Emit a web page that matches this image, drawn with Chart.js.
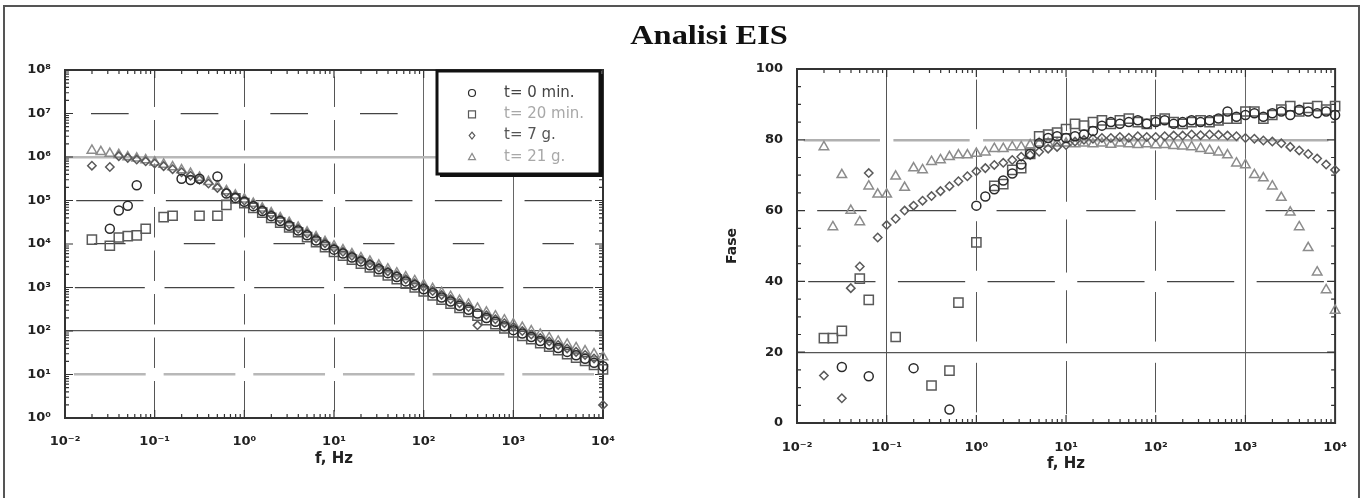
<!DOCTYPE html>
<html>
<head>
<meta charset="utf-8">
<title>Analisi EIS</title>
<script src="https://cdn.jsdelivr.net/npm/chart.js@4.4.0/dist/chart.umd.min.js"></script>
<style>
    body { margin: 0; background: #fff; }
    #wrap { position: relative; width: 1364px; height: 498px; overflow: hidden; }
    #frame { position: absolute; left: 3px; top: 5px; width: 1357px; height: 520px; border: 2px solid #555; box-sizing: border-box; }
    #title { position: absolute; left: 609px; top: 20px; width: 200px; text-align: center; line-height: 32px;
             font: bold 27px "Liberation Serif", "Times New Roman", serif; color: #111; transform: scaleX(1.2); }
    canvas { position: absolute; top: 0; }
</style>
</head>
<body>
<div id="wrap">
    <div id="frame"></div>
    <canvas id="imp-chart" width="682" height="498" style="left:0"></canvas>
    <canvas id="fase-chart" width="682" height="498" style="left:682px"></canvas>
    <div id="title">Analisi EIS</div>
</div>
<script>
// Frequencies of the sweep (Hz), low to high
const freq = [0.01995, 0.02512, 0.03162, 0.03981, 0.05012, 0.0631, 0.07943, 0.1, 0.1259, 0.1585,
              0.1995, 0.2512, 0.3162, 0.3981, 0.5012, 0.631, 0.7943, 1, 1.259, 1.585,
              1.995, 2.512, 3.162, 3.981, 5.012, 6.31, 7.943, 10, 12.59, 15.85,
              19.95, 25.12, 31.62, 39.81, 50.12, 63.1, 79.43, 100, 125.9, 158.5,
              199.5, 251.2, 316.2, 398.1, 501.2, 631, 794.3, 1000, 1259, 1585,
              1995, 2512, 3162, 3981, 5012, 6310, 7943, 10000];

const seriesLabels = ['t= 0 min.', 't= 20 min.', 't= 7 g.', 't= 21 g.'];

// |Z|, as log10 of the value (null = no point)
const logZ0min = [null, null, 4.35, 4.77, 4.88, 5.35, null, null, null, null,
                  5.5, 5.47, 5.5, null, 5.55, 5.16, 5.06, 4.97, 4.87, 4.76,
                  4.64, 4.53, 4.42, 4.31, 4.2, 4.08, 3.97, 3.87, 3.78, 3.69,
                  3.6, 3.51, 3.42, 3.33, 3.24, 3.14, 3.05, 2.96, 2.87, 2.77,
                  2.68, 2.58, 2.49, 2.4, 2.3, 2.21, 2.11, 2.02, 1.94, 1.86,
                  1.77, 1.69, 1.61, 1.52, 1.44, 1.36, 1.27, 1.19];
const logZ20min = [4.1, null, 3.96, 4.15, 4.18, 4.2, 4.35, null, 4.62, 4.65,
                   null, null, 4.65, null, 4.65, 4.9, 5.05, 4.94, 4.83, 4.72,
                   4.6, 4.49, 4.38, 4.27, 4.16, 4.04, 3.93, 3.82, 3.73, 3.64,
                   3.55, 3.46, 3.37, 3.28, 3.19, 3.09, 3.0, 2.91, 2.82, 2.72,
                   2.63, 2.53, 2.44, 2.35, 2.25, 2.16, 2.06, 1.97, 1.89, 1.81,
                   1.72, 1.64, 1.56, 1.47, 1.39, 1.31, 1.22, 1.12];
const logZ7g = [5.8, null, 5.77, 6.02, 5.98, 5.94, 5.9, 5.85, 5.79, 5.72,
                5.65, 5.57, 5.48, 5.39, 5.29, 5.19, 5.09, 5.0, 4.9, 4.79,
                4.68, 4.57, 4.46, 4.35, 4.24, 4.13, 4.02, 3.91, 3.82, 3.73,
                3.64, 3.55, 3.46, 3.37, 3.28, 3.19, 3.1, 3.01, 2.92, 2.83,
                2.73, 2.64, 2.55, 2.13, 2.36, 2.27, 2.18, 2.09, 2.0, 1.92,
                1.84, 1.76, 1.68, 1.6, 1.52, 1.45, 1.37, 0.3];
const logZ21g = [6.15, 6.12, 6.08, 6.05, 6.0, 5.97, 5.93, 5.88, 5.83, 5.77,
                 5.7, 5.62, 5.53, 5.43, 5.33, 5.22, 5.12, 5.03, 4.93, 4.82,
                 4.71, 4.6, 4.49, 4.38, 4.27, 4.16, 4.05, 3.95, 3.86, 3.77,
                 3.68, 3.6, 3.51, 3.42, 3.33, 3.24, 3.15, 3.06, 2.97, 2.88,
                 2.79, 2.7, 2.61, 2.52, 2.43, 2.34, 2.25, 2.16, 2.08, 2.0,
                 1.92, 1.84, 1.76, 1.69, 1.61, 1.54, 1.47, 1.4];

// Phase (degrees)
const fase0min = [null, null, 15.8, null, null, 13.2, null, null, null, null,
                  15.5, null, null, null, 3.8, null, null, 61.4, 64, 66,
                  68.5, 70.5, 73, 76, 79, 80.5, 81, 80.5, 81, 81.5,
                  82.5, 84, 85, 84.5, 85, 85.5, 84.5, 85, 85.5, 84.5,
                  85, 85.5, 85, 85.5, 86, 88, 86.5, 87, 87.5, 86.5,
                  87.5, 88, 87, 88.5, 88, 87.5, 88, 87];
const fase20min = [24, 24, 26, null, 40.8, 34.8, null, null, 24.3, null,
                   null, null, 10.6, null, 14.8, 34, null, 51, null, 67,
                   67.5, 71.5, 72, 76, 81, 81.5, 82, 83, 84.5, 84,
                   85, 85.5, 84.5, 85.5, 86, 85, 84.5, 85.5, 86, 85,
                   84.5, 85, 85.5, 85, 85.5, 86, 86, 88, 88, 86,
                   87, 88.5, 89.5, 88, 89, 89.5, 88.5, 89.5];
const fase7g = [13.4, null, 7.0, 38.1, 44.2, 70.6, 52.4, 55.9, 57.7, 60,
                61.4, 62.8, 64.1, 65.5, 66.9, 68.3, 69.7, 71.1, 72, 72.9,
                73.5, 74.3, 75.2, 75.7, 76.6, 77.5, 78, 78.5, 79.5, 80,
                80.3, 80.5, 80.5, 80.8, 80.6, 81, 80.8, 80.8, 81, 81.2,
                81.2, 81.5, 81.3, 81.5, 81.4, 81.2, 81, 80.5, 80.3, 79.8,
                79.5, 79, 78, 77, 76, 74.7, 73, 71.5];
const fase21g = [78, 55.4, 70.1, 60, 56.8, 66.9, 64.6, 64.6, 69.7, 66.5,
                 72, 71.5, 73.8, 74.3, 75.2, 75.7, 75.7, 76.1, 76.5, 77.5,
                 77.5, 78, 78, 78.5, 79, 79, 79, 79, 78.8, 79,
                 78.8, 79, 78.7, 79, 78.8, 78.6, 78.8, 78.5, 78.6, 78.3,
                 78.2, 78, 77.5, 77, 76.5, 75.7, 73.4, 72.9, 70.1, 69.2,
                 66.9, 63.7, 59.5, 55.4, 49.5, 42.6, 37.6, 31.8];

// Tick labels
const freqTickExps = [-2, -1, 0, 1, 2, 3, 4];
const impTickExps = [0, 1, 2, 3, 4, 5, 6, 7, 8];
const faseTicks = [0, 20, 40, 60, 80, 100];

// Marker look of each series (plot + legend)
const markers = [
    { style: 'circle', radius: 4.5, color: '#2a2a2a', text: '#444' },
    { style: 'rect', radius: 6.5, color: '#5a5a5a', text: '#a8a8a8' },
    { style: 'rectRot', radius: 4.2, color: '#5a5a5a', text: '#555' },
    { style: 'triangle', radius: 5.5, color: '#8c8c8c', text: '#a8a8a8' }
];

// Grid line looks; frac = share of each cell covered by the dash (1 = solid)
const impXGrid = {
    '-1': { color: '#555', width: 1, frac: 0.7 },
    '0': { color: '#555', width: 1, frac: 0.7 },
    '1': { color: '#555', width: 1, frac: 0.7 },
    '2': { color: '#666', width: 1, frac: 1 },
    '3': { color: '#666', width: 1, frac: 1 }
};
const impYGrid = {
    '1': { color: '#b8b8b8', width: 2.5, frac: 0.8 },
    '2': { color: '#555', width: 1.2, frac: 1 },
    '3': { color: '#444', width: 1.2, frac: 0.78 },
    '4': { color: '#444', width: 1.2, frac: 0.35 },
    '5': { color: '#444', width: 1.2, frac: 0.75 },
    '6': { color: '#b8b8b8', width: 2.5, frac: 1 },
    '7': { color: '#444', width: 1.2, frac: 0.42 }
};
const faseXGrid = {
    '-1': { color: '#555', width: 1, frac: 1 },
    '0': { color: '#555', width: 1, frac: 0.7 },
    '1': { color: '#555', width: 1, frac: 0.75 },
    '2': { color: '#555', width: 1, frac: 0.7 },
    '3': { color: '#666', width: 1, frac: 1 }
};
const faseYGrid = {
    '20': { color: '#555', width: 1.2, frac: 1 },
    '40': { color: '#444', width: 1.2, frac: 0.75 },
    '60': { color: '#444', width: 1.2, frac: 0.55 },
    '80': { color: '#b0b0b0', width: 2.5, frac: 0.85 }
};

const SUP = { '-': '\u207B', '0': '\u2070', '1': '\u00B9', '2': '\u00B2', '3': '\u00B3', '4': '\u2074',
              '5': '\u2075', '6': '\u2076', '7': '\u2077', '8': '\u2078', '9': '\u2079' };

function decade(v) {
    return Math.round(Math.log10(v));
}

function pow10Label(v) {
    return '10' + String(decade(v)).split('').map(c => SUP[c]).join('');
}

function toPoints(values, convert) {
    const pts = [];
    values.forEach((v, i) => {
        if (v !== null) pts.push({ x: freq[i], y: convert(v) });
    });
    return pts;
}

function makeDatasets(seriesValues, convert) {
    return seriesValues.map((values, k) => ({
        label: seriesLabels[k],
        data: toPoints(values, convert),
        pointStyle: markers[k].style,
        pointRadius: markers[k].radius,
        pointBorderWidth: 1.5,
        pointBorderColor: markers[k].color,
        pointBackgroundColor: 'rgba(0,0,0,0)',
        showLine: false,
        clip: false
    }));
}

// grid colour/width and dash (centred in each cell) from a style table
function gridStyle(styles, keyOf) {
    const pick = ctx => ctx.tick ? styles[keyOf(ctx.tick.value)] : undefined;
    return {
        color: ctx => { const s = pick(ctx); return s ? s.color : 'rgba(0,0,0,0)'; },
        lineWidth: ctx => { const s = pick(ctx); return s ? s.width : 1; },
        drawTicks: false
    };
}

function dashStyle(styles, keyOf, cells, vertical) {
    const cellLen = ctx => {
        const a = ctx.chart.chartArea;
        if (!a) return 0;
        return (vertical ? (a.bottom - a.top) : (a.right - a.left)) / cells;
    };
    const pick = ctx => ctx.tick ? styles[keyOf(ctx.tick.value)] : undefined;
    return {
        display: false,
        dash: ctx => {
            const s = pick(ctx);
            const p = cellLen(ctx);
            if (!s || s.frac >= 1 || !p) return [];
            return [p * s.frac, p * (1 - s.frac)];
        },
        dashOffset: ctx => {
            const s = pick(ctx);
            const p = cellLen(ctx);
            if (!s || s.frac >= 1 || !p) return 0;
            return p * (1 + s.frac) / 2;
        }
    };
}

function tickValues(spec) {
    const out = [];
    if (spec.log) {
        for (let e = spec.from; e < spec.to; e++) {
            for (let m = 1; m <= 9; m++) out.push({ value: m * Math.pow(10, e), major: m === 1 });
        }
    } else {
        for (let v = spec.from; v <= spec.to; v += spec.step) out.push({ value: v, major: v % spec.majorStep === 0 });
    }
    return out;
}

// Plot frame plus inward tick marks on all four sides
const frameTicks = {
    id: 'frameTicks',
    beforeDatasetsDraw(chart, args, opts) {
        const ctx = chart.ctx;
        const a = chart.chartArea;
        const xs = chart.scales.x;
        const ys = chart.scales.y;
        ctx.save();
        ctx.strokeStyle = '#333';
        ctx.lineWidth = 1.2;
        ctx.beginPath();
        tickValues(opts.x).forEach(t => {
            const px = xs.getPixelForValue(t.value);
            const len = t.major ? 8 : 4;
            ctx.moveTo(px, a.bottom); ctx.lineTo(px, a.bottom - len);
            ctx.moveTo(px, a.top); ctx.lineTo(px, a.top + len);
        });
        tickValues(opts.y).forEach(t => {
            const py = ys.getPixelForValue(t.value);
            const len = t.major ? 8 : 4;
            ctx.moveTo(a.left, py); ctx.lineTo(a.left + len, py);
            ctx.moveTo(a.right, py); ctx.lineTo(a.right - len, py);
        });
        ctx.stroke();
        ctx.lineWidth = 2;
        ctx.strokeRect(a.left, a.top, a.right - a.left, a.bottom - a.top);
        ctx.restore();
    }
};

function drawMarker(ctx, style, x, y, r) {
    ctx.beginPath();
    if (style === 'circle') {
        ctx.arc(x, y, r, 0, Math.PI * 2);
    } else if (style === 'rect') {
        ctx.rect(x - r, y - r, 2 * r, 2 * r);
    } else if (style === 'rectRot') {
        ctx.moveTo(x, y - r); ctx.lineTo(x + r * 0.8, y); ctx.lineTo(x, y + r); ctx.lineTo(x - r * 0.8, y);
        ctx.closePath();
    } else {
        ctx.moveTo(x, y - r); ctx.lineTo(x + r, y + r * 0.8); ctx.lineTo(x - r, y + r * 0.8);
        ctx.closePath();
    }
    ctx.stroke();
}

// Boxed legend in the upper right corner of the |Z| plot
const boxLegend = {
    id: 'boxLegend',
    afterDatasetsDraw(chart, args, opts) {
        if (!opts.show) return;
        const ctx = chart.ctx;
        const a = chart.chartArea;
        const x = a.right - opts.width - 3;
        const y = a.top + opts.top;
        ctx.save();
        ctx.fillStyle = '#111';
        ctx.fillRect(x + 3, y + 3, opts.width, opts.height);
        ctx.fillStyle = '#fff';
        ctx.fillRect(x, y, opts.width, opts.height);
        ctx.lineWidth = 3;
        ctx.strokeStyle = '#111';
        ctx.strokeRect(x, y, opts.width, opts.height);
        ctx.font = '15px "DejaVu Sans"';
        ctx.textBaseline = 'middle';
        chart.data.datasets.forEach((ds, k) => {
            const cy = y + opts.firstRow + k * opts.rowGap;
            ctx.strokeStyle = markers[k].color;
            ctx.lineWidth = 1.2;
            drawMarker(ctx, markers[k].style, x + opts.markerX, cy, 3.5);
            ctx.fillStyle = markers[k].text;
            ctx.fillText(ds.label, x + opts.textX, cy);
        });
        ctx.restore();
    }
};

Chart.defaults.font.family = '"DejaVu Sans", sans-serif';
Chart.defaults.color = '#222';

const tickFont = { size: 13, weight: 'bold' };
const titleFont = { size: 15, weight: 'bold' };

function freqAxis(grid, cells, labelPad) {
    return {
        type: 'logarithmic',
        position: 'bottom',
        min: 0.01,
        max: 10000,
        afterBuildTicks: s => { s.ticks = freqTickExps.map(e => ({ value: Math.pow(10, e) })); },
        afterFit: s => { s.height = 52; },
        ticks: { callback: v => pow10Label(v), autoSkip: false, maxRotation: 0, padding: labelPad, font: tickFont, color: '#222' },
        grid: gridStyle(grid, decade),
        border: dashStyle(grid, decade, cells, true),
        title: { display: true, text: 'f, Hz', font: titleFont, color: '#222', padding: { top: 0, bottom: 2 } }
    };
}

// Impedance modulus chart
new Chart(document.getElementById('imp-chart'), {
    type: 'scatter',
    data: { datasets: makeDatasets([logZ0min, logZ20min, logZ7g, logZ21g], v => Math.pow(10, v)) },
    options: {
        responsive: false,
        animation: false,
        events: [],
        layout: { padding: { left: 0, right: 79, top: 70, bottom: 28 } },
        scales: {
            x: freqAxis(impXGrid, impTickExps.length - 1, 16),
            y: {
                type: 'logarithmic',
                min: 1,
                max: 1e8,
                afterBuildTicks: s => { s.ticks = impTickExps.map(e => ({ value: Math.pow(10, e) })); },
                afterFit: s => { s.width = 65; },
                ticks: { callback: v => pow10Label(v), autoSkip: false, padding: 14, font: tickFont, color: '#222' },
                grid: gridStyle(impYGrid, decade),
                border: dashStyle(impYGrid, decade, freqTickExps.length - 1, false)
            }
        },
        plugins: {
            legend: { display: false },
            tooltip: { enabled: false },
            frameTicks: { x: { log: true, from: -2, to: 4 }, y: { log: true, from: 0, to: 8 } },
            boxLegend: { show: true, width: 163, height: 103, top: 1, firstRow: 22, rowGap: 21.3, markerX: 35, textX: 67 }
        }
    },
    plugins: [frameTicks, boxLegend]
});

// Phase chart
new Chart(document.getElementById('fase-chart'), {
    type: 'scatter',
    data: { datasets: makeDatasets([fase0min, fase20min, fase7g, fase21g], v => v) },
    options: {
        responsive: false,
        animation: false,
        events: [],
        layout: { padding: { left: 0, right: 28, top: 69, bottom: 23 } },
        scales: {
            x: freqAxis(faseXGrid, faseTicks.length - 1, 17),
            y: {
                type: 'linear',
                min: 0,
                max: 100,
                afterBuildTicks: s => { s.ticks = faseTicks.map(v => ({ value: v })); },
                afterFit: s => { s.width = 115; },
                ticks: { autoSkip: false, padding: 14, font: tickFont, color: '#222' },
                grid: gridStyle(faseYGrid, v => v),
                border: dashStyle(faseYGrid, v => v, freqTickExps.length - 1, false),
                title: { display: true, text: 'Fase', font: { size: 14, weight: 'bold' }, color: '#222', padding: { top: 42, bottom: 0 } }
            }
        },
        plugins: {
            legend: { display: false },
            tooltip: { enabled: false },
            frameTicks: { x: { log: true, from: -2, to: 4 }, y: { log: false, from: 0, to: 100, step: 5, majorStep: 20 } },
            boxLegend: { show: false }
        }
    },
    plugins: [frameTicks, boxLegend]
});
</script>
</body>
</html>
